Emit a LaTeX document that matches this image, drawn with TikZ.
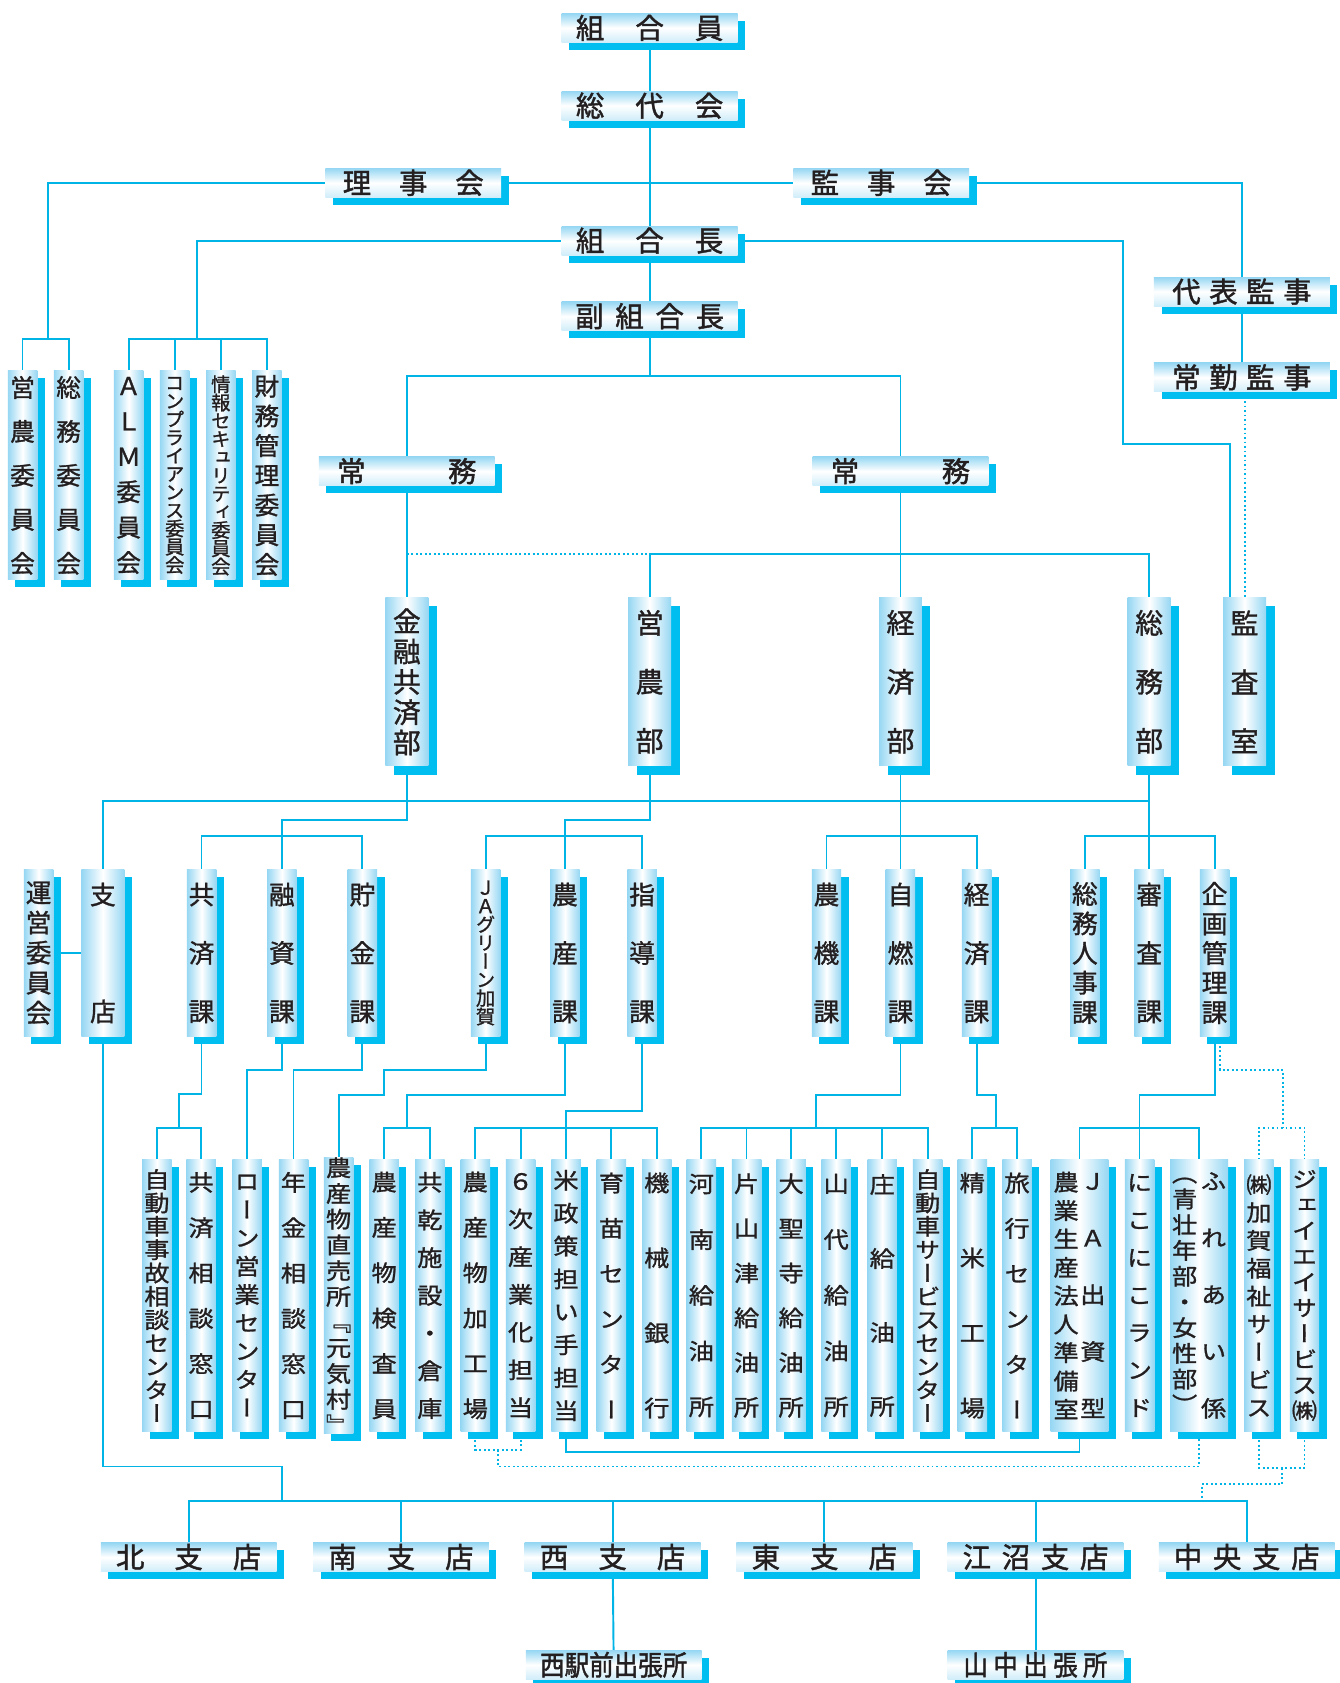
\documentclass[tikz,border=0pt]{standalone}
\usepackage{fontspec}
\newfontfamily\jp[FakeBold=1.5]{Noto Sans CJK JP}
\newfontfamily\jpn[FakeStretch=0.88,FakeBold=1.5]{Noto Sans CJK JP}
\newfontfamily\jpv[RawFeature=+vert,FakeBold=1.2]{Noto Sans CJK JP}
\newfontfamily\jpvw[RawFeature=+vert,FakeStretch=1.12,FakeBold=1.2]{Noto Sans CJK JP}
\usetikzlibrary{positioning, shadows, backgrounds}
\pgfdeclarelayer{paper}
\pgfsetlayers{paper,background,main}
\definecolor{LineCyan}{RGB}{0,180,230}
\definecolor{ShadowCyan}{RGB}{0,190,240}
\definecolor{PaleCyan}{RGB}{150,215,243}
\definecolor{InkColor}{RGB}{35,31,32}

\makeatletter
% characters side by side with a fixed gap
\newcommand\yoko[2]{\def\yk@sep{}\@tfor\yk@c:=#2\do{\yk@sep\yk@c\def\yk@sep{\hskip#1}}}
% characters stacked top to bottom with a fixed pitch
\newcommand\tate[2]{$\vcenter{\baselineskip=#1\lineskiplimit=-\maxdimen
  \@tfor\tt@c:=#2\do{\hbox to 0pt{\hss\tt@c\hss}}}$}
\makeatother

\tikzset{boxshadow/.style={drop shadow={shadow xshift=#1, shadow yshift=-#1, fill=ShadowCyan, opacity=1}}}
\tikzstyle{namebox} = [rectangle, inner sep=0pt, minimum width=164pt, minimum height=27pt, top color=PaleCyan, bottom color=PaleCyan!45, middle color=white, boxshadow=7pt, text=InkColor, font=\jp\fontsize{26.5}{26.5}\selectfont]
\tikzstyle{tatebox} = [rectangle, inner sep=0pt, left color=PaleCyan, right color=PaleCyan, middle color=white, text=InkColor]
\tikzstyle{iinkai} = [tatebox, boxshadow=7pt, minimum width=27.5pt, minimum height=195pt, font=\jpv\fontsize{23}{23}\selectfont]
\tikzstyle{bu} = [tatebox, boxshadow=8pt, minimum width=40pt, minimum height=157pt, font=\jpv\fontsize{26}{26}\selectfont]
\tikzstyle{ka} = [tatebox, boxshadow=7pt, minimum width=27.5pt, minimum height=156pt, font=\jpv\fontsize{24}{24}\selectfont]
\tikzstyle{tanto} = [tatebox, boxshadow=7pt, minimum width=27.5pt, minimum height=253pt, font=\jpvw\fontsize{21}{21}\selectfont]
\tikzstyle{link} = [LineCyan, line width=1.8pt]
\tikzstyle{dotlink} = [LineCyan, line width=1.8pt, dash pattern=on 1.8pt off 2.4pt]

\begin{document}
\begin{tikzpicture}[x=1pt, y=-1pt]
\useasboundingbox (0,0) rectangle (1250,1570);
\begin{pgfonlayer}{paper}
\fill[white] (0,0) rectangle (1250,1570);
\end{pgfonlayer}

% top of the chart
\node[namebox] (kumiaiin) at (606,26) {\yoko{29pt}{組合員}};
\node[namebox] (sodaikai) at (606,98.5) {\yoko{29pt}{総代会}};
\node[namebox] (rijikai) at (385.5,170.5) {\yoko{26pt}{理事会}};
\node[namebox] (kanjikai) at (822,170.5) {\yoko{26pt}{監事会}};
\node[namebox] (kumiaicho) at (606,224.5) {\yoko{29pt}{組合長}};
\node[namebox] (fukukumiaicho) at (606,295) {\yoko{11pt}{副組合長}};
\node[namebox] (daihyo) at (1158.5,272) {\yoko{8pt}{代表監事}};
\node[namebox] (jokin) at (1158.5,352) {\yoko{8pt}{常勤監事}};
\node[namebox] (jomuL) at (379.5,439.5) {\yoko{77pt}{常務}};
\node[namebox] (jomuR) at (840,439.5) {\yoko{77pt}{常務}};

% committees
\node[iinkai] (einoI) at (21,443.5) {\tate{41pt}{営農委員会}};
\node[iinkai] (somuI) at (64,443.5) {\tate{41pt}{総務委員会}};
\node[iinkai] (alm) at (120,443.5) {\tate{33pt}{ＡＬＭ委員会}};
\node[iinkai, font=\jpv\fontsize{18}{18}\selectfont] (compliance) at (163,443.5) {\tate{17pt}{コンプライアンス委員会}};
\node[iinkai, font=\jpv\fontsize{18}{18}\selectfont] (joho) at (206,443.5) {\tate{17pt}{情報セキュリティ委員会}};
\node[iinkai] (zaimu) at (249,443.5) {\tate{27.7pt}{財務管理委員会}};

% departments
\node[bu] (kinyu) at (379.5,636) {\tate{28.3pt}{金融共済部}};
\node[bu] (einobu) at (606,636) {\tate{55pt}{営農部}};
\node[bu] (keizaibu) at (840,636) {\tate{55pt}{経済部}};
\node[bu] (somubu) at (1072,636) {\tate{55pt}{総務部}};
\node[bu] (kansa) at (1161,636) {\tate{55pt}{監査室}};

% sections
\node[ka] (unei) at (36,889) {\tate{28pt}{運営委員会}};
\node[ka, minimum width=40pt] (shiten) at (96,889) {\tate{109pt}{支店}};
\node[ka] (kyosai) at (188,889) {\tate{54.5pt}{共済課}};
\node[ka] (yushi) at (263,889) {\tate{54.5pt}{融資課}};
\node[ka] (chokin) at (338,889) {\tate{54.5pt}{貯金課}};
\node[ka, font=\jpv\fontsize{18}{18}\selectfont] (jagreen) at (453,889) {\tate{17.2pt}{ＪＡグリーン加賀}};
\node[ka] (nosan) at (527,889) {\tate{54.5pt}{農産課}};
\node[ka] (shido) at (599,889) {\tate{54.5pt}{指導課}};
\node[ka] (noki) at (771,889) {\tate{54.5pt}{農機課}};
\node[ka] (jinen) at (840,889) {\tate{54.5pt}{自燃課}};
\node[ka] (keizaika) at (911,889) {\tate{54.5pt}{経済課}};
\node[ka] (somujinji) at (1012,889) {\tate{27.6pt}{総務人事課}};
\node[ka] (shinsa) at (1072,889) {\tate{54.5pt}{審査課}};
\node[ka] (kikaku) at (1133,889) {\tate{27.6pt}{企画管理課}};

% offices and posts
\node[tanto] (jikosodan) at (146.4,1208.5) {\tate{21.8pt}{自動車事故相談センター}};
\node[tanto] (kyosaimado) at (187.6,1208.5) {\tate{42.3pt}{共済相談窓口}};
\node[tanto] (loan) at (230.5,1208.5) {\tate{26.4pt}{ローン営業センター}};
\node[tanto] (nenkin) at (273.8,1208.5) {\tate{42.3pt}{年金相談窓口}};
\node[tanto] (chokubai) at (315.9,1208.5) {\tate{24pt}{農産物直売所『元気村』}};
\node[tanto] (kensain) at (358.4,1208.5) {\tate{42.3pt}{農産物検査員}};
\node[tanto] (kanso) at (401,1208.5) {\tate{35.2pt}{共乾施設・倉庫}};
\node[tanto] (kakojo) at (443.4,1208.5) {\tate{42.3pt}{農産物加工場}};
\node[tanto] (rokuji) at (485.6,1208.5) {\tate{35.2pt}{６次産業化担当}};
\node[tanto] (beisaku) at (528,1208.5) {\tate{30.7pt}{米政策担い手担当}};
\node[tanto] (ikubyo) at (570.4,1208.5) {\tate{42.3pt}{育苗センター}};
\node[tanto] (kikai) at (612.7,1208.5) {\tate{70pt}{機械銀行}};
\node[tanto] (kanan) at (654.3,1208.5) {\tate{52pt}{河南給油所}};
\node[tanto] (katayamazu) at (696.4,1208.5) {\tate{41.7pt}{片山津給油所}};
\node[tanto] (daishoji) at (738,1208.5) {\tate{41.7pt}{大聖寺給油所}};
\node[tanto] (yamashiro) at (780,1208.5) {\tate{52pt}{山代給油所}};
\node[tanto] (sho) at (823,1208.5) {\tate{69pt}{庄給油所}};
\node[tanto] (jidosha) at (865.4,1208.5) {\tate{21.8pt}{自動車サービスセンター}};
\node[tanto] (seimai) at (907,1208.5) {\tate{70pt}{精米工場}};
\node[tanto] (ryoko) at (948.8,1208.5) {\tate{42.3pt}{旅行センター}};
\node[tanto, minimum width=54pt] (japrep) at (1007,1208.5) {\tate{26.5pt}{農業生産法人準備室}\hspace{25pt}\tate{53pt}{ＪＡ出資型}};
\node[tanto] (nikoniko) at (1063,1208.5) {\tate{35pt}{にこにこランド}};
\node[tanto, minimum width=54pt] (fureai) at (1118.6,1208.5) {\tate{24pt}{（青壮年部・女性部）}\hspace{27pt}\tate{53pt}{ふれあい係}};
\node[tanto] (kaga) at (1174.4,1208.5) {\tate{26pt}{㈱加賀福祉サービス}};
\node[tanto] (jeiei) at (1216.9,1208.5) {\tate{24pt}{ジェイエイサービス㈱}};

% branches
\node[namebox] (kitaS) at (176,1452.5) {\yoko{28pt}{北支店}};
\node[namebox] (minamiS) at (374,1452.5) {\yoko{28pt}{南支店}};
\node[namebox] (nishiS) at (571.5,1452.5) {\yoko{28pt}{西支店}};
\node[namebox] (higashiS) at (769,1452.5) {\yoko{28pt}{東支店}};
\node[namebox] (enumaS) at (966,1452.5) {\yoko{10pt}{江沼支店}};
\node[namebox] (chuoS) at (1163,1452.5) {\yoko{10pt}{中央支店}};
\node[namebox, font=\jpn\fontsize{26}{26}\selectfont] (ekimae) at (572.5,1553) {\yoko{0pt}{西駅前出張所}};
\node[namebox, font=\jpn\fontsize{26}{26}\selectfont] (yamanaka) at (966,1553) {\yoko{5pt}{山中出張所}};

\begin{scope}[on background layer]
% upper connectors
\draw[link] (kumiaiin) -- (sodaikai) -- (kumiaicho) -- (fukukumiaicho);
\draw[link] (rijikai) -- (kanjikai);
\coordinate (rjfork) at (45,316);
\draw[link] (rijikai.west) -| (rjfork);
\draw[link] (einoI.north) |- (rjfork) -| (somuI.north);
\coordinate (kcfork) at (184,316);
\draw[link] (kumiaicho.west) -| (kcfork);
\draw[link] (alm.north) |- (kcfork) -| (zaimu.north);
\draw[link] (compliance.north) -- (compliance.north |- kcfork);
\draw[link] (joho.north) -- (joho.north |- kcfork);
\draw[link] (kanjikai.east) -| (daihyo.north);
\draw[link] (daihyo) -- (jokin);
\draw[link] (kumiaicho.east) -| (1048,414) -| ([xshift=-14pt]kansa.north);
\draw[dotlink] (kansa.north |- jokin.south) -- (kansa.north);
\coordinate (fkfork) at (606,351);
\draw[link] (fukukumiaicho) -- (fkfork);
\draw[link] (jomuL.north) |- (fkfork) -| (jomuR.north);
\draw[link] (jomuL) -- (kinyu);
\draw[link] (jomuR) -- (keizaibu);
\coordinate (jmfork) at (840,517);
\draw[dotlink] (kinyu.north |- jmfork) -- (einobu.north |- jmfork);
\draw[link] (einobu.north) |- (jmfork) -| (somubu.north);

% departments to sections
\coordinate (sbar) at (1072,747);
\draw[link] (shiten.north) |- (sbar);
\draw[link] (somubu) -- (shinsa);
\draw[link] (unei) -- (shiten);
\draw[link] (kinyu.south) -- ++(0,50) -| (yushi.north);
\draw[link] (kyosai.north) -- ++(0,-31) -| (chokin.north);
\draw[link] (einobu.south) -- ++(0,50) -| (nosan.north);
\draw[link] (jagreen.north) -- ++(0,-31) -| (shido.north);
\draw[link] (keizaibu) -- (jinen);
\draw[link] (noki.north) -- ++(0,-31) -| (keizaika.north);
\draw[link] (somujinji.north) -- ++(0,-31) -| (kikaku.north);

% sections to offices
\coordinate (stfork) at (263,1400);
\draw[link] (shiten.south) |- (263,1368) -- (stfork);
\draw[link] (kitaS.north) |- (stfork) -| (chuoS.north);
\foreach \s in {minamiS,nishiS,higashiS,enumaS} \draw[link] (\s.north) -- (\s.north |- stfork);
\coordinate (kyfork) at (167,1052);
\draw[link] (kyosai.south) -- ++(0,53) -| (kyfork);
\draw[link] (jikosodan.north) |- (kyfork) -| (kyosaimado.north);
\draw[link] (yushi.south) -- ++(0,31) -| (loan.north);
\draw[link] (chokin.south) -- ++(0,31) -| (nenkin.north);
\draw[link] (jagreen.south) -- ++(0,31) -| (358,1021.5) -| (chokubai.north);
\coordinate (nsfork) at (380,1052);
\draw[link] (nosan.south) -- ++(0,54.5) -| (nsfork);
\draw[link] (kensain.north) |- (nsfork) -| (kanso.north);
\coordinate (sdfork) at (528,1052);
\draw[link] (shido.south) -- ++(0,69) -| (sdfork);
\draw[link] (kakojo.north) |- (sdfork) -| (kikai.north);
\foreach \s in {rokuji,beisaku,ikubyo} \draw[link] (\s.north) -- (\s.north |- sdfork);
\coordinate (jnfork) at (761,1052);
\draw[link] (jinen.south) -- ++(0,54.5) -| (jnfork);
\draw[link] (kanan.north) |- (jnfork) -| (jidosha.north);
\foreach \s in {katayamazu,daishoji,yamashiro,sho} \draw[link] (\s.north) -- (\s.north |- jnfork);
\coordinate (kzfork) at (929,1052);
\draw[link] (keizaika.south) -- ++(0,54.5) -| (kzfork);
\draw[link] (seimai.north) |- (kzfork) -| (ryoko.north);
\coordinate (kkfork) at (1063,1052);
\draw[link] (kikaku.south) -- ++(0,54.5) -| (kkfork);
\draw[link] (japrep.north) |- (kkfork) -| (fureai.north);
\draw[link] (nikoniko.north) -- (kkfork);
\coordinate (kgfork) at (1197,1052);
\draw[dotlink] ([xshift=5pt]kikaku.south) -- ++(0,31) -| (kgfork);
\draw[dotlink] (kaga.north) |- (kgfork) -| (jeiei.north);

% links under the offices
\coordinate (kadot) at (464.5,1352.5);
\draw[dotlink] (kakojo.south) |- (kadot) -| (rokuji.south);
\draw[dotlink] (kadot) -- ++(0,15.5) -| (fureai.south);
\draw[link] (beisaku.south) -- ++(0,19) -| (japrep.south);
\coordinate (kjdot) at (1196,1369.5);
\draw[dotlink] (kaga.south) |- (kjdot) -| (jeiei.south);
\draw[dotlink] (kjdot) -- ++(0,15) -| (1121,1400);
\draw[link] (nishiS) -- (ekimae);
\draw[link] (enumaS) -- (yamanaka);
\end{scope}
\end{tikzpicture}
\end{document}
